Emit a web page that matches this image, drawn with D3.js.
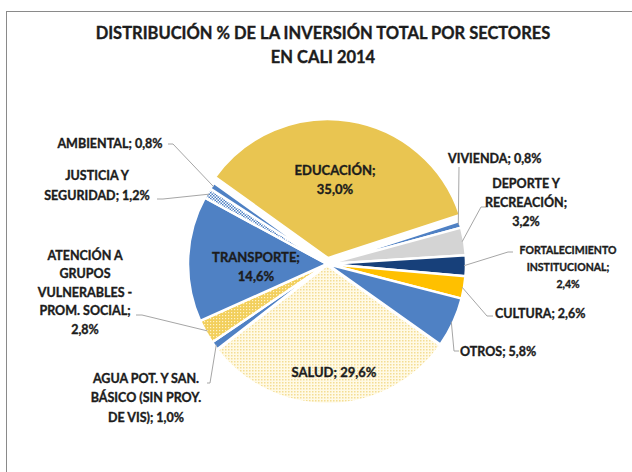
<!DOCTYPE html>
<html>
<head>
<meta charset="utf-8">
<script src="https://cdn.jsdelivr.net/npm/d3@7"></script>
<style>
  body { margin: 0; background: #fff; }
  text { font-family: Lato, "Open Sans", sans-serif; font-weight: bold; fill: #1c1c1c;
         stroke: #1c1c1c; stroke-width: 0.35px; }
</style>
</head>
<body>
<div id="chart"></div>
<script>
// data (clockwise from the top-left)
const sectores = ["EDUCACIÓN", "VIVIENDA", "DEPORTE Y RECREACIÓN", "FORTALECIMIENTO INSTITUCIONAL",
  "CULTURA", "OTROS", "SALUD", "AGUA POT. Y SAN. BÁSICO (SIN PROY. DE VIS)",
  "ATENCIÓN A GRUPOS VULNERABLES - PROM. SOCIAL", "TRANSPORTE", "JUSTICIA Y SEGURIDAD", "AMBIENTAL"];
const porcentajes = [35.0, 0.8, 3.2, 2.4, 2.6, 5.8, 29.6, 1.0, 2.8, 14.6, 1.2, 0.8];
const lineasEtiqueta = [
  ["EDUCACIÓN;", "35,0%"],
  ["VIVIENDA; 0,8%"],
  ["DEPORTE Y", "RECREACIÓN;", "3,2%"],
  ["FORTALECIMIENTO", "INSTITUCIONAL;", "2,4%"],
  ["CULTURA; 2,6%"],
  ["OTROS; 5,8%"],
  ["SALUD; 29,6%"],
  ["AGUA POT. Y SAN.", "BÁSICO (SIN PROY.", "DE VIS); 1,0%"],
  ["ATENCIÓN A", "GRUPOS", "VULNERABLES -", "PROM. SOCIAL;", "2,8%"],
  ["TRANSPORTE;", "14,6%"],
  ["JUSTICIA Y", "SEGURIDAD; 1,2%"],
  ["AMBIENTAL; 0,8%"]
];
const titulo = ["DISTRIBUCIÓN % DE LA INVERSIÓN TOTAL POR SECTORES", "EN CALI 2014"];

// styling / layout
const colores = ["#E9C551", "#4F81C4", "#D4D4D4", "#17407A", "#FFC000", "#4F81C4",
  "url(#pSalud)", "#4F81C4", "url(#pAtencion)", "#4F81C4", "url(#pJusticia)", "#4F81C4"];
// label placement: x, y of first line, anchor, line gap, font size, leader points
const etiquetas = [
  { x: 335, y: 170, a: "middle", g: 18.5, fs: 13 },
  { x: 448, y: 158, a: "start", g: 18.5, fs: 12.5, lead: [[459, 167]] },
  { x: 526, y: 183, a: "middle", g: 19, fs: 12.5, lead: [[486, 207], [481, 207]] },
  { x: 568, y: 250, a: "middle", g: 17, fs: 10.5, lead: [[513, 252], [508, 252]] },
  { x: 495, y: 313, a: "start", g: 18.5, fs: 12.5, lead: [[493, 316], [487, 316]] },
  { x: 460, y: 351, a: "start", g: 18.5, fs: 12.5, lead: [[459, 351], [454, 351]] },
  { x: 334, y: 372, a: "middle", g: 18.5, fs: 13 },
  { x: 146, y: 378, a: "middle", g: 19.5, fs: 12.5, lead: [[207, 383], [210, 383]] },
  { x: 85, y: 255, a: "middle", g: 18.5, fs: 12.5, lead: [[136, 315], [142, 315]] },
  { x: 256, y: 257, a: "middle", g: 19, fs: 13 },
  { x: 97, y: 175, a: "middle", g: 20, fs: 12.5, lead: [[157, 199], [163, 199]] },
  { x: 110, y: 143, a: "middle", g: 18.5, fs: 12.5, lead: [[168, 144], [173, 144]] }
];

const W = 632, H = 472;
const cx = 327, cy = 264, R = 139;
const explota = [6, 0, 0, 0, 0, 0, 1, 0, 0, 0, 0, 0];

const svg = d3.select("#chart").append("svg").attr("width", W).attr("height", H);

// patterns
const defs = svg.append("defs");
const pS = defs.append("pattern").attr("id", "pSalud").attr("patternUnits", "userSpaceOnUse")
  .attr("width", 3).attr("height", 3);
pS.append("rect").attr("width", 3).attr("height", 3).attr("fill", "#FFFAE6");
pS.append("rect").attr("width", 1.5).attr("height", 1.5).attr("fill", "#F4DC92");
const pA = defs.append("pattern").attr("id", "pAtencion").attr("patternUnits", "userSpaceOnUse")
  .attr("width", 3).attr("height", 3);
pA.append("rect").attr("width", 3).attr("height", 3).attr("fill", "#F2CF5C");
pA.append("rect").attr("width", 1.2).attr("height", 1.2).attr("fill", "#FFF2C8");
const pJ = defs.append("pattern").attr("id", "pJusticia").attr("patternUnits", "userSpaceOnUse")
  .attr("width", 3).attr("height", 3);
pJ.append("rect").attr("width", 3).attr("height", 3).attr("fill", "#ffffff");
pJ.append("rect").attr("width", 1.5).attr("height", 1.5).attr("fill", "#4F81C4");
pJ.append("rect").attr("x", 1.5).attr("y", 1.5).attr("width", 1.5).attr("height", 1.5).attr("fill", "#4F81C4");

// chart border (cut off at right and bottom)
svg.append("rect").attr("x", 6.5).attr("y", 11.5).attr("width", 700).attr("height", 700)
  .attr("fill", "none").attr("stroke", "#8a8a8a").attr("stroke-width", 1);

// title
svg.append("text").attr("text-anchor", "middle")
  .selectAll("tspan").data(titulo).join("tspan")
  .attr("x", 323).attr("y", (d, i) => 33 + i * 24).attr("dominant-baseline", "central")
  .style("font-size", "16.5px").text(d => d);

const startA = -54.3 * Math.PI / 180;
const pie = d3.pie().sort(null).value(d => d).startAngle(startA).endAngle(startA + 2 * Math.PI);
const arcs = pie(porcentajes);
const arc = d3.arc().innerRadius(0).outerRadius(R);

const g = svg.append("g").attr("transform", `translate(${cx},${cy})`);
g.selectAll("path").data(arcs).join("path")
  .attr("d", arc)
  .attr("transform", (d, i) => {
    const m = (d.startAngle + d.endAngle) / 2;
    return `translate(${explota[i] * Math.sin(m)},${-explota[i] * Math.cos(m)})`;
  })
  .attr("fill", (d, i) => colores[i])
  .attr("stroke", "#fff").attr("stroke-width", 2.5).attr("stroke-linejoin", "round");

// leader lines
arcs.forEach((d, i) => {
  const e = etiquetas[i];
  if (!e.lead) return;
  const m = (d.startAngle + d.endAngle) / 2;
  const p = [cx + (R - 2) * Math.sin(m), cy - (R - 2) * Math.cos(m)];
  svg.append("polyline")
    .attr("points", [...e.lead, p].map(q => q.join(",")).join(" "))
    .attr("fill", "none").attr("stroke", "#a6a6a6").attr("stroke-width", 1);
});

// labels
arcs.forEach((d, i) => {
  const e = etiquetas[i];
  const t = svg.append("text").attr("text-anchor", e.a).style("font-size", e.fs + "px");
  lineasEtiqueta[i].forEach((l, k) => {
    t.append("tspan").attr("x", e.x).attr("y", e.y + k * e.g)
      .attr("dominant-baseline", "central").text(l);
  });
});
</script>
</body>
</html>
